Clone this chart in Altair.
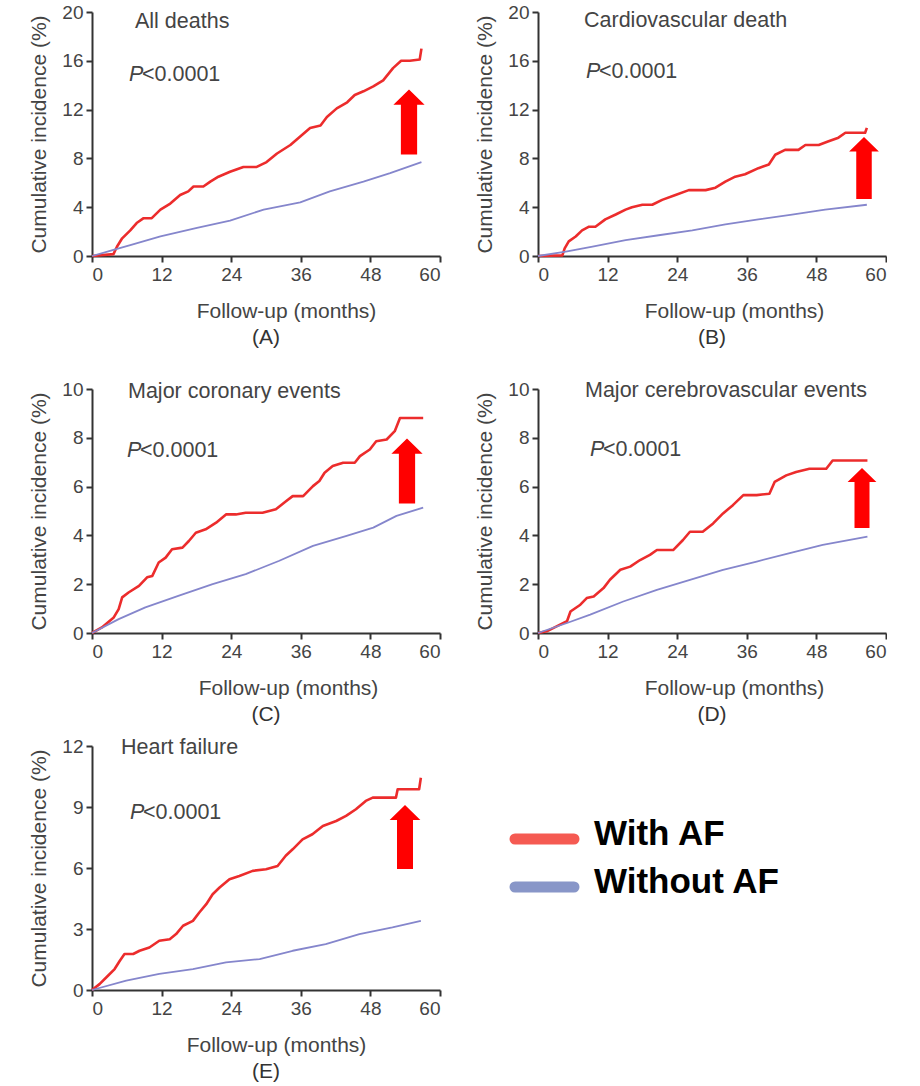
import altair as alt
import pandas as pd

FONT = "Liberation Sans, Arial, Helvetica, sans-serif"
groups = ["With AF", "Without AF"]
line_colors = ["#ec2c2c", "#8586cc"]
legend_colors = ["#f55a52", "#8896c8"]
x_ticks = [0, 12, 24, 36, 48, 60]

# ---------------- (A) All deaths ----------------
A_with_m = [0, 3.7, 4.3, 5.2, 6.6, 7.7, 8.9, 10.3, 11.8, 13.5, 15.2, 16.6, 17.5, 19.2, 20.4, 21.8, 23.8, 26.1, 28.4, 30.1,
            31.9, 34.2, 35.9, 37.6, 39.4, 40.5, 42.2, 44.0, 45.3, 46.8, 48.5, 50.2, 51.9, 53.3, 54.8, 56.5, 56.8]
A_with_v = [0, 0.15, 0.76, 1.45, 2.1, 2.7, 3.1, 3.1, 3.8, 4.3, 5.0, 5.3, 5.7, 5.7, 6.1, 6.5, 6.9, 7.3, 7.3, 7.7,
            8.4, 9.1, 9.8, 10.5, 10.7, 11.4, 12.1, 12.6, 13.2, 13.5, 13.9, 14.4, 15.4, 16.0, 16.0, 16.1, 17.0]
A_wo_m = [0, 3.7, 6.6, 11.8, 18.1, 23.8, 29.6, 35.9, 41.0, 46.8, 51.4, 56.8]
A_wo_v = [0, 0.5, 0.9, 1.6, 2.3, 2.9, 3.8, 4.4, 5.3, 6.1, 6.8, 7.7]

# ---------------- (B) Cardiovascular death ----------------
B_with_m = [0, 4.2, 4.6, 5.3, 6.5, 7.6, 8.8, 9.9, 11.6, 13.4, 15.1, 16.2, 18.0, 19.7, 21.4, 23.7, 26.0, 28.9, 30.6, 32.3,
            34.0, 35.7, 38.0, 39.8, 40.9, 42.6, 44.9, 46.1, 48.4, 50.1, 51.8, 53.0, 55.2, 56.4, 56.7]
B_with_v = [0, 0.05, 0.63, 1.2, 1.6, 2.1, 2.4, 2.4, 3.0, 3.4, 3.8, 4.0, 4.2, 4.2, 4.6, 5.0, 5.4, 5.4, 5.6, 6.1,
            6.5, 6.7, 7.2, 7.5, 8.3, 8.7, 8.7, 9.1, 9.1, 9.4, 9.7, 10.1, 10.1, 10.1, 10.5]
B_wo_m = [0, 4.8, 9.4, 15.1, 20.8, 26.6, 32.3, 38.0, 43.8, 49.5, 56.7]
B_wo_v = [0, 0.36, 0.77, 1.3, 1.7, 2.1, 2.6, 3.0, 3.4, 3.8, 4.2]

# ---------------- (C) Major coronary events ----------------
C_with_m = [0, 1.7, 3.75, 4.6, 5.2, 6.3, 8.1, 9.5, 10.4, 11.5, 12.7, 13.8, 15.6, 16.7, 17.9, 19.6, 21.4, 23.1, 24.8, 26.5,
            29.4, 31.7, 33.5, 34.6, 36.4, 38.1, 39.2, 40.1, 41.5, 43.3, 45.3, 46.2, 47.9, 49.0, 50.8, 52.2, 53.1, 57.1]
C_with_v = [0, 0.23, 0.64, 0.98, 1.46, 1.66, 1.93, 2.28, 2.34, 2.89, 3.09, 3.43, 3.5, 3.77, 4.11, 4.25, 4.52, 4.86, 4.86, 4.93,
            4.93, 5.07, 5.41, 5.61, 5.61, 6.02, 6.23, 6.57, 6.84, 6.98, 6.98, 7.25, 7.52, 7.86, 7.93, 8.27, 8.81, 8.81]
C_wo_m = [0, 4.6, 9.2, 15.0, 20.8, 26.5, 32.3, 38.1, 43.9, 48.5, 52.5, 57.1]
C_wo_v = [0, 0.57, 1.05, 1.53, 2.0, 2.41, 2.96, 3.57, 3.98, 4.32, 4.80, 5.14]

# ---------------- (D) Major cerebrovascular events ----------------
D_with_m = [0, 1.5, 3.8, 5.0, 5.6, 7.3, 8.4, 9.6, 11.3, 12.4, 14.2, 15.9, 17.6, 19.3, 20.5, 23.3, 25.0, 26.2, 28.4, 30.2,
            31.9, 33.6, 35.4, 37.7, 39.9, 40.8, 42.8, 44.5, 46.8, 49.7, 50.8, 56.8]
D_with_v = [0, 0.07, 0.34, 0.48, 0.88, 1.16, 1.43, 1.5, 1.84, 2.18, 2.59, 2.72, 2.99, 3.2, 3.4, 3.4, 3.81, 4.15, 4.15, 4.49,
            4.9, 5.24, 5.65, 5.65, 5.71, 6.19, 6.46, 6.6, 6.73, 6.73, 7.07, 7.07]
D_wo_m = [0, 5.0, 9.0, 14.7, 20.5, 26.2, 31.9, 37.7, 43.4, 49.1, 56.8]
D_wo_v = [0, 0.41, 0.75, 1.29, 1.77, 2.18, 2.59, 2.93, 3.27, 3.61, 3.95]

# ---------------- (E) Heart failure ----------------
E_with_m = [0, 1.3, 2.75, 3.9, 4.8, 5.6, 7.1, 8.2, 9.9, 11.6, 13.4, 14.5, 15.7, 17.4, 18.5, 19.7, 20.8, 22.0, 23.7, 25.4,
            27.7, 30.0, 32.0, 33.4, 34.6, 36.3, 38.0, 39.8, 42.1, 43.8, 45.5, 47.2, 48.4, 52.4, 52.7, 56.4, 56.7]
E_with_v = [0, 0.29, 0.70, 1.03, 1.44, 1.77, 1.77, 1.93, 2.09, 2.42, 2.5, 2.75, 3.16, 3.4, 3.81, 4.22, 4.71, 5.04, 5.45, 5.61,
            5.86, 5.94, 6.1, 6.6, 6.92, 7.41, 7.66, 8.07, 8.31, 8.56, 8.89, 9.3, 9.46, 9.46, 9.87, 9.87, 10.44]
E_wo_m = [0, 5.9, 11.6, 17.4, 23.1, 28.9, 34.6, 40.3, 46.1, 51.8, 56.7]
E_wo_v = [0, 0.46, 0.79, 1.03, 1.36, 1.52, 1.93, 2.26, 2.75, 3.08, 3.4]

ARROW = "M0,-1 L0.48,-0.53 L0.25,-0.53 L0.25,1 L-0.25,1 L-0.25,-0.53 L-0.48,-0.53 Z"
W, H = 348, 244


def panel(title, letter, ymax, yticks, wm, wv, om, ov, title_pos, p_pos, arrow_pos, arrow_h, xshift):
    df = pd.DataFrame({
        "month": wm + om,
        "pct": wv + ov,
        "group": [groups[0]] * len(wm) + [groups[1]] * len(om),
    })
    lines = alt.Chart(df).mark_line(strokeJoin="round").encode(
        x=alt.X("month:Q", scale=alt.Scale(domain=[0, 60], nice=False),
                axis=alt.Axis(values=x_ticks, title="Follow-up (months)", titleX=W / 2 + xshift,
                              titleY=55, titleBaseline="middle")),
        y=alt.Y("pct:Q", scale=alt.Scale(domain=[0, ymax], nice=False),
                axis=alt.Axis(values=yticks, title="Cumulative incidence (%)", titlePadding=12)),
        color=alt.Color("group:N", scale=alt.Scale(domain=groups, range=line_colors), legend=None),
        strokeWidth=alt.StrokeWidth("group:N", scale=alt.Scale(domain=groups, range=[2.6, 1.8]), legend=None),
        order="month:Q",
        detail="group:N",
    )
    ttl = alt.Chart(pd.DataFrame({"t": [title]})).mark_text(
        align="left", baseline="middle", fontSize=21.5, font=FONT, color="#444"
    ).encode(x=alt.value(title_pos[0]), y=alt.value(title_pos[1]), text="t:N")
    p1 = alt.Chart(pd.DataFrame({"t": ["P"]})).mark_text(
        align="left", baseline="middle", fontSize=21.5, font=FONT, fontStyle="italic", color="#444"
    ).encode(x=alt.value(p_pos[0]), y=alt.value(p_pos[1]), text="t:N")
    p2 = alt.Chart(pd.DataFrame({"t": ["<0.0001"]})).mark_text(
        align="left", baseline="middle", fontSize=21.5, font=FONT, color="#444"
    ).encode(x=alt.value(p_pos[0] + 13), y=alt.value(p_pos[1]), text="t:N")
    arrow = alt.Chart(pd.DataFrame({"a": [1]})).mark_point(
        shape=ARROW, filled=True, color="#ff0000", opacity=1, strokeWidth=0, size=arrow_h * arrow_h
    ).encode(x=alt.value(arrow_pos[0]), y=alt.value(arrow_pos[1]))
    return alt.layer(lines, ttl, p1, p2, arrow).properties(
        width=W, height=H,
        title=alt.TitleParams(letter, orient="bottom", anchor="middle", fontSize=21, fontWeight="normal",
                              color="#333", font=FONT, offset=6),
    )


A = panel("All deaths", "(A)", 20, [0, 4, 8, 12, 16, 20], A_with_m, A_with_v, A_wo_m, A_wo_v,
          (43, 10), (37, 63), (317, 110), 65, 20)
B = panel("Cardiovascular death", "(B)", 20, [0, 4, 8, 12, 16, 20], B_with_m, B_with_v, B_wo_m, B_wo_v,
          (46, 9), (48, 60), (326, 156), 62, 22)
C = panel("Major coronary events", "(C)", 10, [0, 2, 4, 6, 8, 10], C_with_m, C_with_v, C_wo_m, C_wo_v,
          (36, 3), (35, 62), (315, 82), 65, 22)
D = panel("Major cerebrovascular events", "(D)", 10, [0, 2, 4, 6, 8, 10], D_with_m, D_with_v, D_wo_m, D_wo_v,
          (47, 2), (52, 61), (324, 109), 60, 22)
E = panel("Heart failure", "(E)", 12, [0, 3, 6, 9, 12], E_with_m, E_with_v, E_wo_m, E_wo_v,
          (29, 2), (38, 67), (313, 91), 64, 10)

legend_df = pd.DataFrame({"label": groups})
ly = alt.Y("label:N", axis=None,
           scale=alt.Scale(type="point", domain=groups, range=[93, 141], padding=0))
leg_line = alt.Chart(legend_df).mark_rule(strokeWidth=11, strokeCap="round").encode(
    x=alt.value(41), x2=alt.value(100), y=ly,
    stroke=alt.Stroke("label:N", scale=alt.Scale(domain=groups, range=legend_colors), legend=None),
)
leg_text = alt.Chart(legend_df).mark_text(
    align="left", baseline="middle", fontSize=35, fontWeight="bold", font=FONT, color="black", dy=-5
).encode(x=alt.value(120), y=ly, text="label:N")
legend = alt.layer(leg_line, leg_text).properties(width=330, height=250)

rows12 = alt.vconcat(
    alt.hconcat(A, B, spacing=33),
    alt.hconcat(C, D, spacing=33),
    spacing=32,
)
chart = alt.vconcat(
    rows12,
    alt.hconcat(E, legend, spacing=33),
    spacing=12,
).properties(
    padding={"left": 28, "top": 3, "right": 0, "bottom": 0},
    background="white",
).configure_axis(
    domainColor="#333", domainWidth=2, tickColor="#333", tickWidth=2, tickSize=6,
    labelFontSize=19, labelColor="#444", labelFont=FONT, labelPadding=3,
    titleFont=FONT, titleFontSize=21, titleFontWeight="normal", titleColor="#444", grid=False,
).configure_view(stroke=None)

chart.save("out.html", embed_options={"renderer": "svg", "actions": False})
